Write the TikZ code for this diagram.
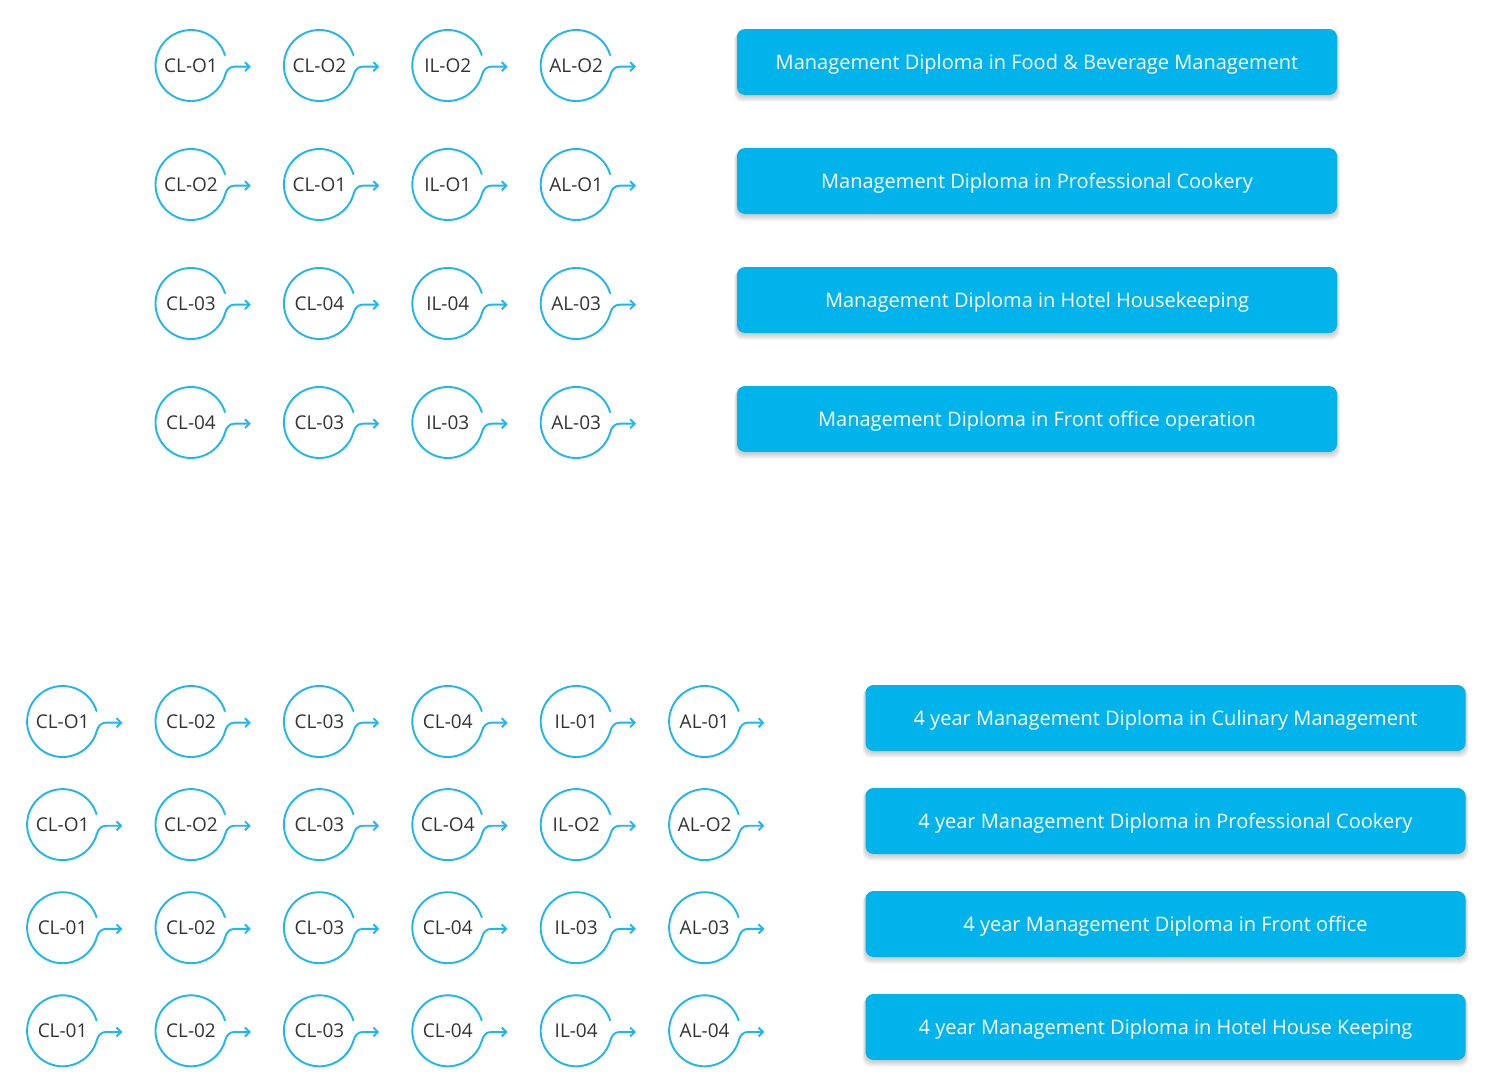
\documentclass[tikz,border=0pt]{standalone}
\usepackage{fontspec}
\setmainfont{Open Sans}
\usetikzlibrary{arrows.meta,calc}
\definecolor{ringblue}{HTML}{1FB6EC}
\definecolor{boxblue}{HTML}{00B3EB}
\definecolor{labeltext}{HTML}{333333}
\tikzset{
  ringnode/.style={circle, minimum size=71pt, inner sep=0pt, text=labeltext,
    font=\fontsize{19}{19}\selectfont},
  tipline/.style={draw=ringblue, line width=1.9pt, line cap=round,
    -{Straight Barb[length=4.5pt,width=9pt]}},
  diplomabox/.style={rectangle, rounded corners=8pt, fill=boxblue,
    minimum width=600pt, minimum height=66pt, inner sep=0pt, text=white,
    text height=14.5pt, text depth=0pt,
    font=\fontsize{20}{20}\selectfont},
  shadowlayer/.style={fill=black, opacity=0.03, rounded corners=8pt}
}
\newcommand\ringat[4]{%
  \node[ringnode] (#1) at ({#2+0.8},{-#3}) {#4};
  \draw[tipline] ($(#1.center)+(17:35.5)$) arc[start angle=17,end angle=345,radius=35.5]
    to[out=75,in=180] ++(9,8) -- ++(16.5,0) coordinate (#1-tip);}
\newcommand\ringrow[4]{%
  \foreach \lab [count=\c] in {#4} {\ringat{#1\c}{#3+128.4*(\c-1)}{#2}{\lab}}}
\newcommand\diploma[4]{%
  \foreach \k in {1,...,6}{%
    \fill[shadowlayer] ({#2-300-0.5*\k},{-#3-33-1.0*\k-1}) rectangle ({#2+300+0.5*\k},{-#3+33-0.6*\k});}
  \node[diplomabox] (#1) at ({#2},{-#3}) {#4};}
\begin{document}
\begin{tikzpicture}[x=1pt,y=1pt]
\fill[white] (0,0) rectangle (1497,-1092);
\useasboundingbox (0,0) rectangle (1497,-1092);
% top group
\ringrow{ta}{65.5}{190.2}{CL-O1,CL-O2,IL-O2,AL-O2}
\ringrow{tb}{184.5}{190.2}{CL-O2,CL-O1,IL-O1,AL-O1}
\ringrow{tc}{303.5}{190.2}{CL-03,CL-04,IL-04,AL-03}
\ringrow{td}{422.5}{190.2}{CL-04,CL-03,IL-03,AL-03}
\diploma{ba}{1037}{62}{Management Diploma in Food \& Beverage Management}
\diploma{bb}{1037}{181}{Management Diploma in Professional Cookery}
\diploma{bc}{1037}{300}{Management Diploma in Hotel Housekeeping}
\diploma{bd}{1037}{419}{Management Diploma in Front office operation}
% bottom group
\ringrow{ua}{721.5}{61.8}{CL-O1,CL-02,CL-03,CL-04,IL-01,AL-01}
\ringrow{ub}{824.6}{61.8}{CL-O1,CL-O2,CL-03,CL-O4,IL-O2,AL-O2}
\ringrow{uc}{927.7}{61.8}{CL-01,CL-02,CL-03,CL-04,IL-03,AL-03}
\ringrow{ud}{1030.8}{61.8}{CL-01,CL-02,CL-03,CL-04,IL-04,AL-04}
\diploma{va}{1165.5}{718}{4 year Management Diploma in Culinary Management}
\diploma{vb}{1165.5}{821}{4 year Management Diploma in Professional Cookery}
\diploma{vc}{1165.5}{924}{4 year Management Diploma in Front office}
\diploma{vd}{1165.5}{1027}{4 year Management Diploma in Hotel House Keeping}
\end{tikzpicture}
\end{document}
